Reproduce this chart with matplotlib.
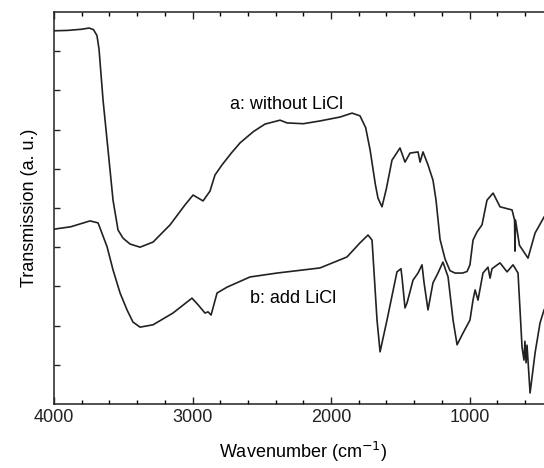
import matplotlib.pyplot as plt
from matplotlib.ticker import MultipleLocator

plt.rcParams['font.family'] = ['Liberation Sans', 'DejaVu Sans']

# spectrum a: without LiCl
wn_a = [4000, 3900, 3800, 3747, 3715, 3690, 3675, 3646, 3610, 3574, 3538, 3502,
        3451, 3379, 3285, 3162, 3054, 2996, 2924, 2874, 2838, 2787, 2720, 2657,
        2560, 2477, 2368, 2318, 2200, 2080, 1935, 1848, 1791, 1750, 1718, 1680,
        1661, 1632, 1600, 1560, 1502, 1466, 1430, 1372, 1357, 1336, 1300, 1264,
        1242, 1213, 1177, 1141, 1105, 1050, 1018, 997, 975, 946, 910, 874, 830,
        780, 693, 675, 672, 668, 640, 621, 578, 527, 462]
tr_a = [9.52, 9.53, 9.56, 9.59, 9.55, 9.40, 9.05, 7.75, 6.48, 5.20, 4.44, 4.23,
        4.08, 4.00, 4.13, 4.57, 5.08, 5.33, 5.18, 5.43, 5.84, 6.10, 6.40, 6.66,
        6.95, 7.14, 7.24, 7.17, 7.15, 7.22, 7.32, 7.42, 7.35, 7.05, 6.48, 5.60,
        5.25, 5.03, 5.50, 6.22, 6.53, 6.17, 6.40, 6.43, 6.17, 6.43, 6.10, 5.71,
        5.20, 4.20, 3.70, 3.40, 3.34, 3.34, 3.38, 3.55, 4.18, 4.39, 4.57, 5.20,
        5.38, 5.03, 4.95, 4.69, 3.90, 4.69, 4.05, 3.95, 3.72, 4.36, 4.77]

# spectrum b: add LiCl
wn_b = [4000, 3880, 3740, 3682, 3617, 3574, 3523, 3473, 3430, 3379, 3285, 3141,
        3004, 2960, 2910, 2888, 2866, 2823, 2751, 2585, 2390, 2080, 1885, 1791,
        1733, 1704, 1668, 1646, 1596, 1524, 1495, 1487, 1466, 1451, 1408, 1372,
        1343, 1329, 1300, 1264, 1228, 1192, 1155, 1119, 1090, 1047, 997, 975,
        960, 939, 903, 867, 852, 838, 780, 729, 686, 650, 621, 607, 600, 592,
        585, 563, 527, 491, 462]
tr_b = [4.46, 4.52, 4.67, 4.62, 4.01, 3.42, 2.83, 2.40, 2.09, 1.96, 2.02, 2.32,
        2.70, 2.53, 2.32, 2.35, 2.27, 2.83, 2.98, 3.24, 3.34, 3.47, 3.75, 4.11,
        4.31, 4.18, 2.14, 1.33, 2.14, 3.37, 3.45, 3.21, 2.45, 2.58, 3.16, 3.34,
        3.55, 3.11, 2.40, 3.09, 3.34, 3.62, 3.24, 2.14, 1.51, 1.81, 2.14, 2.65,
        2.91, 2.65, 3.34, 3.49, 3.21, 3.45, 3.60, 3.37, 3.55, 3.34, 1.45, 1.12,
        1.60, 1.05, 1.50, 0.28, 1.30, 2.07, 2.40]

fig = plt.figure(figsize=(5.44, 4.68), dpi=100)
ax = fig.add_axes([0.0993, 0.1368, 0.9166, 0.8376])

ax.plot(wn_a, tr_a, color='#222222', lw=1.2)
ax.plot(wn_b, tr_b, color='#222222', lw=1.2)

ax.text(2729, 7.65, 'a: without LiCl', fontsize=13, va='center', ha='left')
ax.text(2585, 2.70, 'b: add LiCl', fontsize=13, va='center', ha='left')

ax.set_xlim(4000, 400)
ax.set_ylim(0, 10)
ax.xaxis.set_major_locator(MultipleLocator(1000))
ax.xaxis.set_minor_locator(MultipleLocator(200))
ax.set_xticks([4000, 3000, 2000, 1000])
ax.set_yticks([1, 2, 3, 4, 5, 6, 7, 8, 9])
ax.set_yticklabels([])
ax.tick_params(axis='both', which='major', direction='in', length=5, width=1,
               top=True, labelsize=13, colors='#222222')
ax.tick_params(axis='both', which='minor', direction='in', length=3, width=1, top=True)
ax.tick_params(axis='y', length=4)
for s in ax.spines.values():
    s.set_linewidth(1.1)
    s.set_color('#222222')

ax.set_xlabel('Wavenumber (cm$^{-1}$)', fontsize=13, labelpad=10)
ax.set_ylabel('Transmission (a. u.)', fontsize=13, labelpad=8)

fig.savefig('out.png', dpi=100)
